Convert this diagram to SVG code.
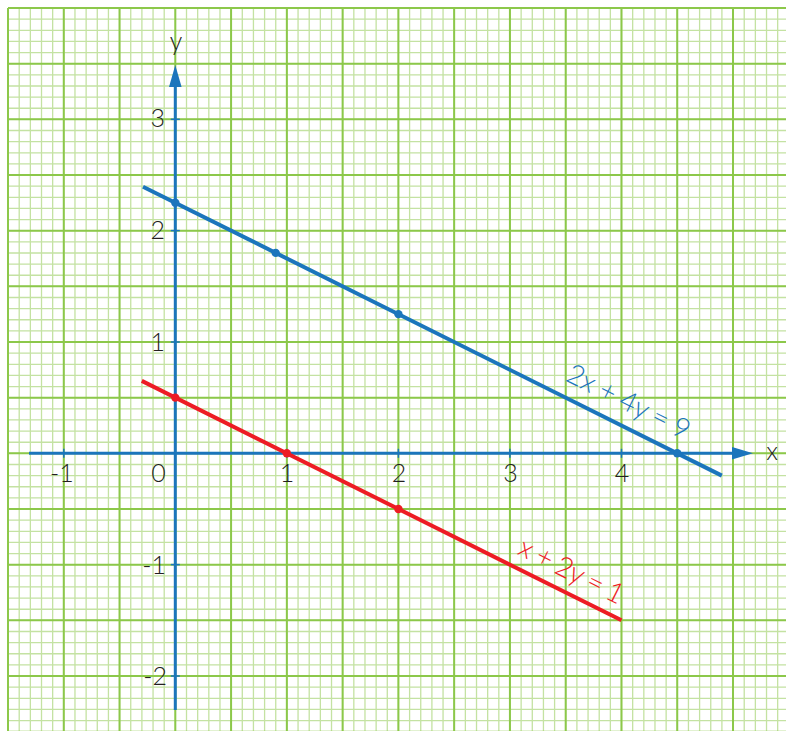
<svg xmlns="http://www.w3.org/2000/svg" width="786" height="731" viewBox="0 0 786 731">
<style>
.minor{stroke:#c4e2a2;fill:none}
.major{stroke:#8cc84a;fill:none}
.axis{stroke:#1b75bc;stroke-width:3;fill:none}
.tick{stroke:#1b75bc;stroke-width:1.5}
.lab{font-family:Lato,"Liberation Sans",sans-serif;font-weight:300;font-size:25px;fill:#231f20}
.blue{stroke:#1b75bc;stroke-width:4;fill:none}
.red{stroke:#ed1c24;stroke-width:4;fill:none}
.bdot{fill:#1b75bc}
.rdot{fill:#ed1c24}
.eq{font-family:Lato,"Liberation Sans",sans-serif;font-weight:300;font-size:28px}
</style>
<rect width="786" height="731" fill="#ffffff"/>
<g id="grid">
<line class="minor" x1="7.4" y1="369.5" x2="786" y2="369.5" stroke-width="723" stroke-dasharray="1.3 9.854"/>
<line class="minor" x1="397" y1="7.4" x2="397" y2="731" stroke-width="778" stroke-dasharray="1.3 9.833"/>
<line class="major" x1="7" y1="369.5" x2="786" y2="369.5" stroke-width="723" stroke-dasharray="2 53.77"/>
<line class="major" x1="397" y1="7" x2="397" y2="731" stroke-width="778" stroke-dasharray="2 53.67"/>
</g>
<g id="connectors">
<g id="x-axis">
<line class="axis" x1="29" y1="453.3" x2="735" y2="453.3"/>
<polygon points="753,453.3 732,447 732,459.6" fill="#1b75bc"/>
<line class="tick" x1="63.8" y1="448.8" x2="63.8" y2="457.8"/>
<line class="tick" x1="286.8" y1="448.8" x2="286.8" y2="457.8"/>
<line class="tick" x1="398.4" y1="448.8" x2="398.4" y2="457.8"/>
<line class="tick" x1="509.9" y1="448.8" x2="509.9" y2="457.8"/>
<line class="tick" x1="621.5" y1="448.8" x2="621.5" y2="457.8"/>
</g>
<g id="y-axis">
<line class="axis" x1="175.3" y1="710" x2="175.3" y2="85"/>
<polygon points="175.3,65 169,87 181.6,87" fill="#1b75bc"/>
<line class="tick" x1="170.8" y1="119.3" x2="179.8" y2="119.3"/>
<line class="tick" x1="170.8" y1="230.6" x2="179.8" y2="230.6"/>
<line class="tick" x1="170.8" y1="342" x2="179.8" y2="342"/>
<line class="tick" x1="170.8" y1="564.6" x2="179.8" y2="564.6"/>
<line class="tick" x1="170.8" y1="676" x2="179.8" y2="676"/>
</g>
</g>
<g id="axis-labels">
<text class="lab" x="772" y="460" text-anchor="middle">x</text>
<text class="lab" x="176" y="50" text-anchor="middle">y</text>
<text class="lab" x="62" y="482" text-anchor="middle">-1</text>
<text class="lab" x="158.5" y="482" text-anchor="middle">0</text>
<text class="lab" x="287" y="482" text-anchor="middle">1</text>
<text class="lab" x="399" y="482" text-anchor="middle">2</text>
<text class="lab" x="510.5" y="482" text-anchor="middle">3</text>
<text class="lab" x="622" y="482" text-anchor="middle">4</text>
<text class="lab" x="165" y="127" text-anchor="end">3</text>
<text class="lab" x="165" y="239" text-anchor="end">2</text>
<text class="lab" x="165" y="350.5" text-anchor="end">1</text>
<text class="lab" x="166" y="573.5" text-anchor="end">-1</text>
<text class="lab" x="167" y="685" text-anchor="end">-2</text>
</g>
<g id="line-blue">
<line class="blue" x1="143" y1="186.7" x2="721.8" y2="475.6"/>
<circle class="bdot" cx="175.3" cy="202.8" r="4.2"/>
<circle class="bdot" cx="275.7" cy="252.9" r="4.2"/>
<circle class="bdot" cx="398.4" cy="314.1" r="4.2"/>
<circle class="bdot" cx="677.2" cy="453.3" r="4.2"/>
<text class="eq" fill="#1b75bc" transform="translate(627.5,404) rotate(26.57)" x="0" y="7" text-anchor="middle" textLength="134" lengthAdjust="spacing">2x + 4y = 9</text>
</g>
<g id="line-red">
<line class="red" x1="141.8" y1="380.9" x2="621.5" y2="620.3"/>
<circle class="rdot" cx="175.3" cy="397.6" r="4.2"/>
<circle class="rdot" cx="286.8" cy="453.3" r="4.2"/>
<circle class="rdot" cx="398.4" cy="509" r="4.2"/>
<text class="eq" fill="#ed1c24" transform="translate(570,574) rotate(26.57)" x="0" y="6" text-anchor="middle" textLength="114" lengthAdjust="spacing">x + 2y = 1</text>
</g>
</svg>
